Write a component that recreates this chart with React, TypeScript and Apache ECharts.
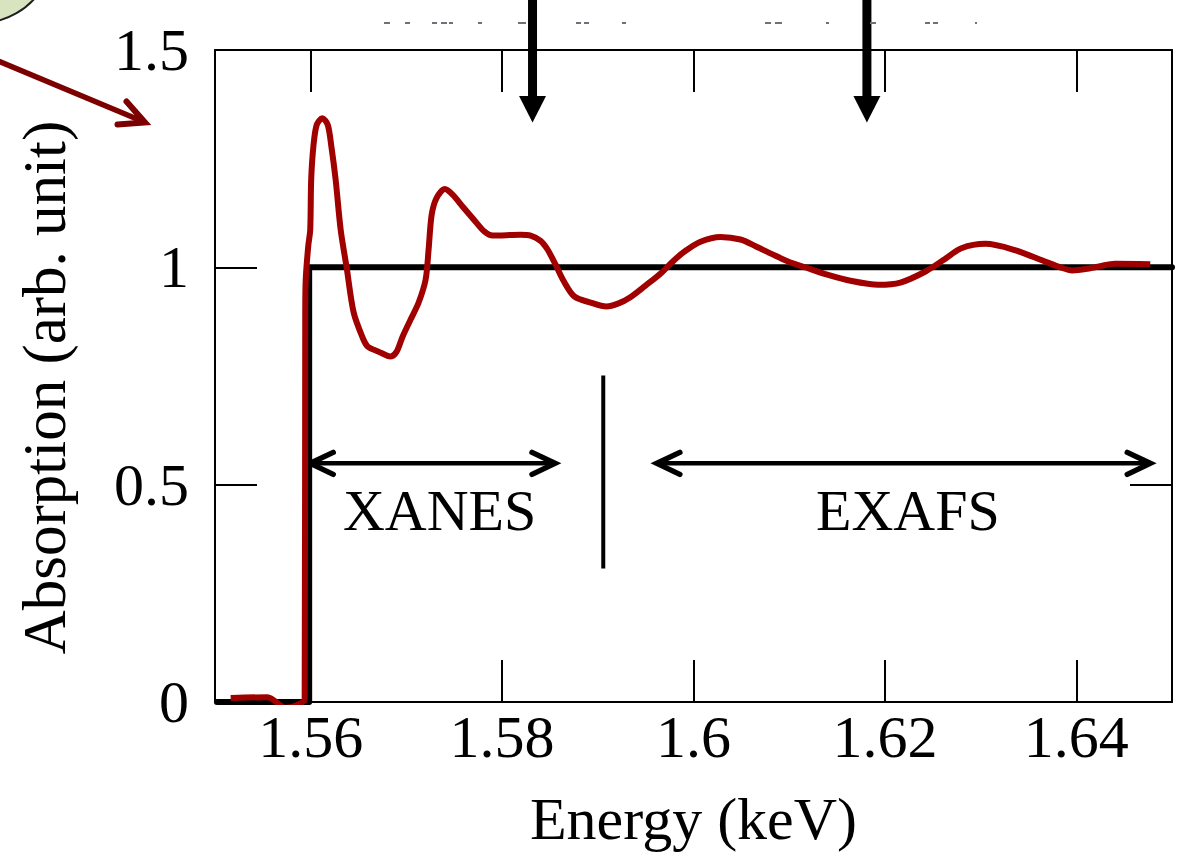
import React, { useEffect, useRef } from "react";
import * as echarts from "echarts";

// ---- data ----
const energy = [
  1.55164, 1.55548, 1.55739, 1.55875, 1.55937, 1.55943, 1.55948, 1.55974, 1.55995, 1.56005,
  1.56028, 1.56063, 1.56122, 1.56178, 1.56216, 1.56261, 1.56313, 1.56376, 1.56449, 1.56543,
  1.56595, 1.5671, 1.56836, 1.56898, 1.56961, 1.57044, 1.57128, 1.57201, 1.57232, 1.57264,
  1.57316, 1.57403, 1.57483, 1.57598, 1.57723, 1.57817, 1.57901, 1.58193, 1.58298, 1.58402,
  1.58475, 1.58559, 1.58642, 1.58754, 1.58924, 1.59091, 1.59217, 1.59332, 1.59499, 1.59663,
  1.59781, 1.5991, 1.60073, 1.60282, 1.60491, 1.60654, 1.60815, 1.60982, 1.6118, 1.61397,
  1.6164, 1.61932, 1.62162, 1.62429, 1.62632, 1.62799, 1.6305, 1.63338, 1.63666, 1.63833,
  1.63958, 1.64146, 1.64407, 1.64773,
];
const absorption = [
  0.009, 0.011, -0.013, -0.005, 0.007, 0.896, 0.972, 1.048, 1.087, 1.201,
  1.278, 1.328, 1.343, 1.328, 1.278, 1.201, 1.087, 0.999, 0.896, 0.838,
  0.818, 0.806, 0.795, 0.806, 0.841, 0.88, 0.919, 0.972, 1.041, 1.121,
  1.16, 1.18, 1.167, 1.137, 1.105, 1.082, 1.073, 1.075, 1.073, 1.061,
  1.041, 1.006, 0.969, 0.933, 0.919, 0.91, 0.917, 0.93, 0.958, 0.987,
  1.013, 1.037, 1.059, 1.07, 1.064, 1.048, 1.031, 1.014, 0.999, 0.983,
  0.969, 0.96, 0.965, 0.991, 1.02, 1.044, 1.054, 1.041, 1.014, 1.0,
  0.993, 0.998, 1.008, 1.007,
];
const stepEnergy = [1.5502, 1.55984, 1.55984, 1.65];
const stepAbsorption = [0, 0, 1, 1];

const xTicks = [1.56, 1.58, 1.6, 1.62, 1.64];
const X_MIN = 1.55;
const X_MAX = 1.65;

// annotation anchors (data coordinates)
const xanesArrow = [1.55995, 1.58553];
const exafsArrow = [1.59617, 1.64773];
const arrowLevel = 0.549;
const dividerX = 1.59057;
const dividerY = [0.307, 0.751];
const regionLabels = [
  { text: "XANES", x: 1.57347, y: 0.44 },
  { text: "EXAFS", x: 1.6224, y: 0.44 },
];
const topArrowsX = [1.58318, 1.61812];
// faint scan artifacts at the very top (pixel x ranges)
const topDashes = [
  [384, 390], [405, 410], [432, 437], [441, 447], [449, 453], [478, 482], [518, 526],
  [576, 581], [584, 589], [622, 626], [765, 771], [775, 782], [826, 829], [870, 876],
  [925, 930], [933, 938], [975, 977],
];

const FONT = '"Liberation Serif", "Times New Roman", serif';

function buildGraphic(px: (x: number, y: number) => number[]) {
  const els: any[] = [];
  const black = "#000";
  const ah = 23;
  const aw = 11;
  const dbl = (x0: number, x1: number, y: number) => {
    const a = px(x0, y);
    const b = px(x1, y);
    els.push({
      type: "polyline",
      shape: { points: [[a[0] + 2, a[1]], [b[0] - 2, b[1]]] },
      style: { stroke: black, lineWidth: 4.5, fill: null },
    });
    els.push({
      type: "polyline",
      shape: { points: [[a[0] + ah, a[1] - aw], [a[0], a[1]], [a[0] + ah, a[1] + aw]] },
      style: { stroke: black, lineWidth: 5.5, fill: null, lineCap: "round", lineJoin: "miter" },
    });
    els.push({
      type: "polyline",
      shape: { points: [[b[0] - ah, b[1] - aw], [b[0], b[1]], [b[0] - ah, b[1] + aw]] },
      style: { stroke: black, lineWidth: 5.5, fill: null, lineCap: "round", lineJoin: "miter" },
    });
  };
  dbl(xanesArrow[0], xanesArrow[1], arrowLevel);
  dbl(exafsArrow[0], exafsArrow[1], arrowLevel);

  const d0 = px(dividerX, dividerY[0]);
  const d1 = px(dividerX, dividerY[1]);
  els.push({
    type: "line",
    shape: { x1: d0[0], y1: d0[1], x2: d1[0], y2: d1[1] },
    style: { stroke: black, lineWidth: 4 },
  });

  regionLabels.forEach((l) => {
    const p = px(l.x, l.y);
    els.push({
      type: "text",
      x: p[0],
      y: p[1],
      style: {
        text: l.text,
        fontSize: 58,
        fontFamily: FONT,
        fill: black,
        align: "center",
        verticalAlign: "middle",
        textAlign: "center",
        textVerticalAlign: "middle",
      },
    });
  });

  topArrowsX.forEach((x) => {
    const cx = px(x, 1)[0];
    els.push({ type: "rect", shape: { x: cx - 4.5, y: 0, width: 9, height: 98 }, style: { fill: black } });
    els.push({
      type: "polygon",
      shape: { points: [[cx - 13.5, 96], [cx + 13.5, 96], [cx, 122.5]] },
      style: { fill: black },
    });
  });

  topDashes.forEach((d) => {
    els.push({
      type: "rect",
      shape: { x: d[0], y: 22, width: d[1] - d[0], height: 2 },
      style: { fill: "#707078" },
    });
  });

  // decorative corner: green bubble and dark-red pointer arrow
  els.push({
    type: "circle",
    shape: { cx: -20, cy: -50, r: 73 },
    style: { fill: "#d8e4bf", stroke: "#1e1e1e", lineWidth: 2 },
  });
  els.push({
    type: "polyline",
    shape: { points: [[-2, 61], [143, 121.5]] },
    style: { stroke: "#7d0000", lineWidth: 5.5, fill: null },
  });
  els.push({
    type: "polyline",
    shape: { points: [[126.5, 101.5], [145, 122.5], [117.5, 124.5]] },
    style: { stroke: "#7d0000", lineWidth: 6, fill: null, lineCap: "round", lineJoin: "miter" },
  });
  return els;
}

export default function App() {
  const ref = useRef<HTMLDivElement>(null);
  useEffect(() => {
    if (!ref.current) return;
    const chart = echarts.init(ref.current, null, { renderer: "svg" });
    const axisLine = { show: true, onZero: false, lineStyle: { color: "#000", width: 2 } };
    const tickStyle = { color: "#000", width: 2 };
    const fmt = (v: number) => String(parseFloat(Number(v).toFixed(2)));
    const option: any = {
      animation: false,
      backgroundColor: "#fff",
      grid: { left: 215, right: 6, top: 50, bottom: 151, containLabel: false },
      xAxis: [
        {
          type: "value",
          min: X_MIN,
          max: X_MAX,
          position: "bottom",
          axisLine,
          splitLine: { show: false },
          axisTick: { show: true, inside: true, length: 42, lineStyle: tickStyle, customValues: xTicks },
          axisLabel: {
            show: true,
            customValues: xTicks,
            formatter: fmt,
            fontSize: 60,
            fontFamily: FONT,
            color: "#000",
            margin: 5,
          },
          name: "Energy (keV)",
          nameLocation: "middle",
          nameGap: 87,
          nameTextStyle: { fontSize: 60, fontFamily: FONT, color: "#000" },
        },
        {
          type: "value",
          min: X_MIN,
          max: X_MAX,
          position: "top",
          axisLine,
          splitLine: { show: false },
          axisTick: { show: true, inside: true, length: 42, lineStyle: tickStyle, customValues: xTicks },
          axisLabel: { show: false },
        },
      ],
      yAxis: [
        {
          type: "value",
          min: 0,
          max: 1.5,
          interval: 0.5,
          position: "left",
          axisLine,
          splitLine: { show: false },
          axisTick: { show: true, inside: true, length: 42, lineStyle: tickStyle },
          axisLabel: {
            show: true,
            formatter: fmt,
            fontSize: 60,
            fontFamily: FONT,
            color: "#000",
            margin: 26,
            padding: [0, 0, 23, 0],
          },
          name: "Absorption (arb. unit)",
          nameLocation: "middle",
          nameRotate: 90,
          nameGap: 140,
          nameTextStyle: { fontSize: 61, fontFamily: FONT, color: "#000", padding: [0, 23, 0, 0] },
        },
        {
          type: "value",
          min: 0,
          max: 1.5,
          interval: 0.5,
          position: "right",
          axisLine,
          splitLine: { show: false },
          axisTick: { show: true, inside: true, length: 42, lineStyle: tickStyle },
          axisLabel: { show: false },
        },
      ],
      series: [
        {
          type: "line",
          data: stepEnergy.map((x, i) => [x, stepAbsorption[i]]),
          showSymbol: false,
          symbol: "none",
          lineStyle: { color: "#000", width: 6, cap: "round", join: "round" },
          z: 2,
          clip: false,
          silent: true,
        },
        {
          type: "line",
          data: energy.map((x, i) => [x, absorption[i]]),
          showSymbol: false,
          symbol: "none",
          smooth: 0.3,
          lineStyle: { color: "#a00000", width: 6, cap: "butt", join: "round" },
          z: 3,
          silent: true,
        },
      ],
    };
    chart.setOption(option);
    const px = (x: number, y: number) =>
      chart.convertToPixel({ xAxisIndex: 0, yAxisIndex: 0 }, [x, y]) as number[];
    chart.setOption({ graphic: { elements: buildGraphic(px) } });
    return () => chart.dispose();
  }, []);
  return (
    <div
      ref={ref}
      style={{ position: "fixed", left: 0, top: 0, width: 1178, height: 854, background: "#fff" }}
    />
  );
}
